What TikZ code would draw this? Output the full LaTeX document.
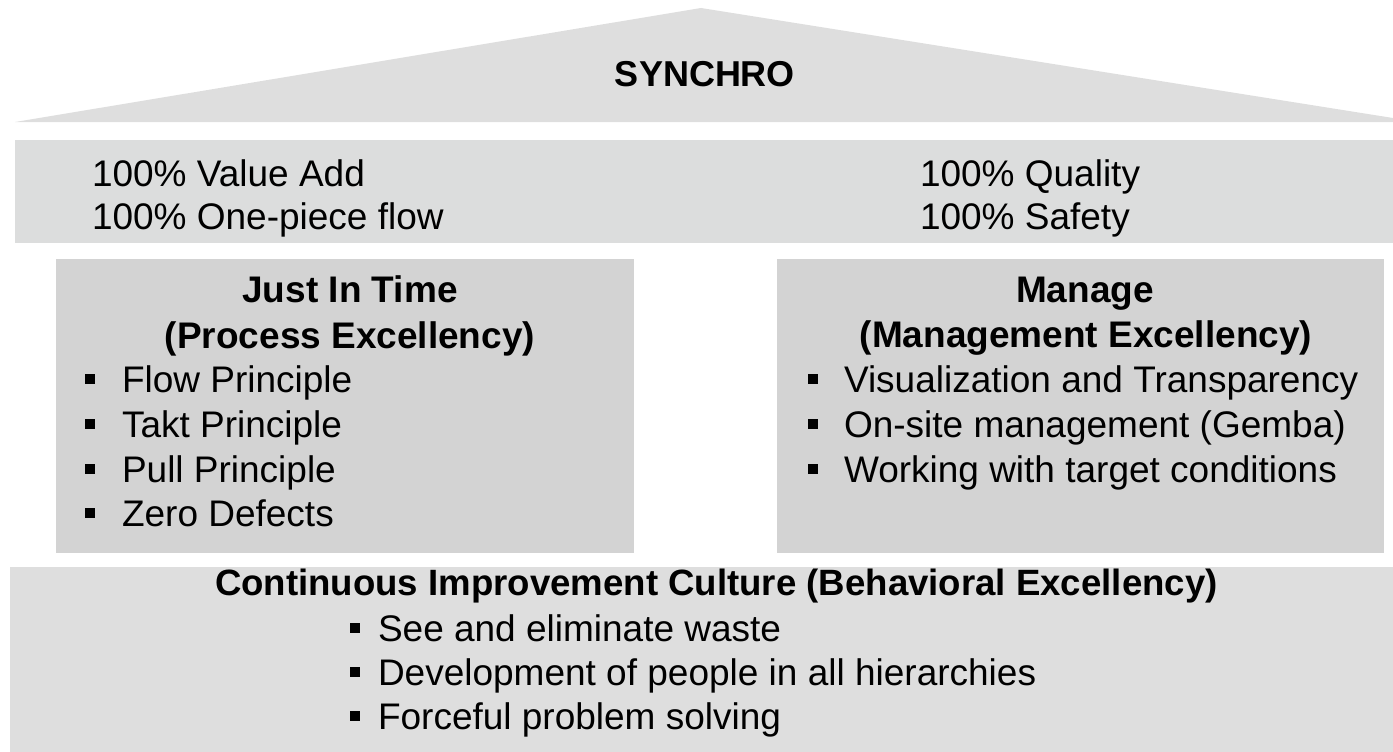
\documentclass[tikz,border=0pt]{standalone}
\usepackage{fontspec}
\setmainfont{Liberation Sans}
\definecolor{roofc}{RGB}{222,222,222}
\definecolor{bandc}{RGB}{220,221,221}
\definecolor{pillc}{RGB}{211,211,211}
\definecolor{basec}{RGB}{222,222,222}
\newcommand{\sqbul}{\raisebox{8pt}{\rule{10pt}{10pt}}}
\tikzset{
  txt/.style={inner sep=0pt, outer sep=0pt, anchor=base west, font=\fontsize{37}{44}\selectfont},
  hd/.style={inner sep=0pt, outer sep=0pt, anchor=base, font=\fontsize{37}{44}\selectfont\bfseries},
}
\begin{document}
\begin{tikzpicture}[x=1pt,y=-1pt]
\useasboundingbox (0,0) rectangle (1393,752);
% roof
\fill[roofc] (15,122) -- (701,8) -- (1393,118) -- (1393,122) -- cycle;
% top band
\fill[bandc] (15,140) rectangle (1393,243);
% pillars
\fill[pillc] (56,259) rectangle (634,553);
\fill[pillc] (777,259) rectangle (1384,553);
% foundation
\fill[basec] (10,567) rectangle (1393,752);

\node[hd,font=\fontsize{36}{43}\selectfont\bfseries] (synchro) at (705,87) {SYNCHRO};

\node[txt] (va) at (92,186) {100\% Value Add};
\node[txt] (opf) at (92,229) {100\% One-piece flow};
\node[txt] (qual) at (920,186) {100\% Quality};
\node[txt] (safe) at (920,229) {100\% Safety};

\node[hd] (jit1) at (350,302) {Just In Time};
\node[hd] (jit2) at (350,348) {(Process Excellency)};
\node[txt] (j1) at (85,392) {\sqbul\hspace{27pt}Flow Principle};
\node[txt] (j2) at (85,437) {\sqbul\hspace{27pt}Takt Principle};
\node[txt] (j3) at (85,482) {\sqbul\hspace{27pt}Pull Principle};
\node[txt] (j4) at (85,526) {\sqbul\hspace{27pt}Zero Defects};

\node[hd] (m1) at (1085,302) {Manage};
\node[hd] (m2) at (1086,347) {(Management Excellency)};
\node[txt] (mm1) at (808,392) {\sqbul\hspace{26pt}Visualization and Transparency};
\node[txt] (mm2) at (808,437) {\sqbul\hspace{26pt}On-site management (Gemba)};
\node[txt] (mm3) at (808,482) {\sqbul\hspace{26pt}Working with target conditions};

\node[txt,font=\fontsize{36.6}{44}\selectfont\bfseries] (ci) at (215,595) {Continuous Improvement Culture (Behavioral Excellency)};
\node[txt] (c1) at (350,641) {\sqbul\hspace{18pt}See and eliminate waste};
\node[txt] (c2) at (350,685) {\sqbul\hspace{18pt}Development of people in all hierarchies};
\node[txt] (c3) at (350,729) {\sqbul\hspace{18pt}Forceful problem solving};
\end{tikzpicture}
\end{document}
